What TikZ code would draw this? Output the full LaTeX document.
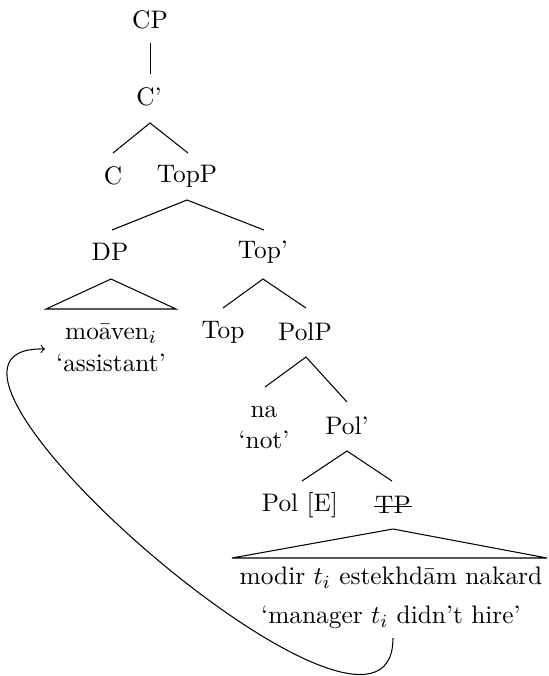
\documentclass[tikz,border=0pt]{standalone}
\usetikzlibrary{calc}
\begin{document}
\begin{tikzpicture}[x=0.43pt,y=-0.43pt,
  lbl/.style={inner sep=0pt,font=\fontsize{10.9}{13}\selectfont},
  edge/.style={line width=0.45pt}]
\useasboundingbox (0,0) rectangle (548,676);
\node[lbl] (cp) at (150,20) {CP};
\node[lbl] (cbar) at (149,97) {C'};
\node[lbl] (c) at (113,176) {C};
\node[lbl] (topp) at (187,176) {TopP};
\node[lbl] (dp) at (110,252) {DP};
\node[lbl] (topbar) at (263,252) {Top'};
\node[lbl] (moaven) at (111,334) {mo\=aven$_i$};
\node[lbl] (assistant) at (111,363) {`assistant'};
\node[lbl] (top) at (223,332) {Top};
\node[lbl] (polp) at (305,332) {PolP};
\node[lbl] (na) at (264,412) {na};
\node[lbl] (not) at (264,440) {`not'};
\node[lbl] (polbar) at (347,426) {Pol'};
\node[lbl] (pol) at (300,505) {Pol [E]};
\node[lbl] (tp) at (393,505) {TP};
\node[lbl] (modir) at (391,578) {modir $t_i$ estekhd\=am nakard};
\node[lbl] (manager) at (391,617) {`manager $t_i$ didn't hire'};
% edges
\draw[edge] ($(cp)+(0.4,23)$) -- ($(cbar)+(1.4,-23)$);
\draw[edge] ($(c)+(0,-23)$) -- ($(cbar)+(1,26)$) -- ($(topp)+(1,-23)$);
\draw[edge] ($(dp)+(2,-22)$) -- ($(topp)+(0,24)$) -- ($(topbar)+(1,-22)$);
\draw[edge] ($(moaven)+(-65,-25)$) -- ($(dp)+(1,27)$) -- ($(moaven)+(65,-25)$) -- cycle;
\draw[edge] ($(top)+(0,-24)$) -- ($(topbar)+(0,27)$) -- ($(polp)+(1,-24)$);
\draw[edge] ($(na)+(1,-25)$) -- ($(polp)+(1,25)$) -- ($(polbar)+(0,-24)$);
\draw[edge] ($(pol)+(2,-24)$) -- ($(polbar)+(0,25)$) -- ($(tp)+(-1,-24)$);
\draw[edge] ($(modir)+(-159,-20)$) -- ($(tp)+(0,24)$) -- ($(modir)+(156,-20)$) -- cycle;
\draw[edge] ($(tp)+(-19,1.5)$) -- ($(tp)+(19,1.5)$);
% movement arrow
\draw[edge,->] ($(manager)+(2,21)$) .. controls +(0,167) and +(-180,-4) .. ($(assistant)+(-66,-14)$);
\end{tikzpicture}
\end{document}
